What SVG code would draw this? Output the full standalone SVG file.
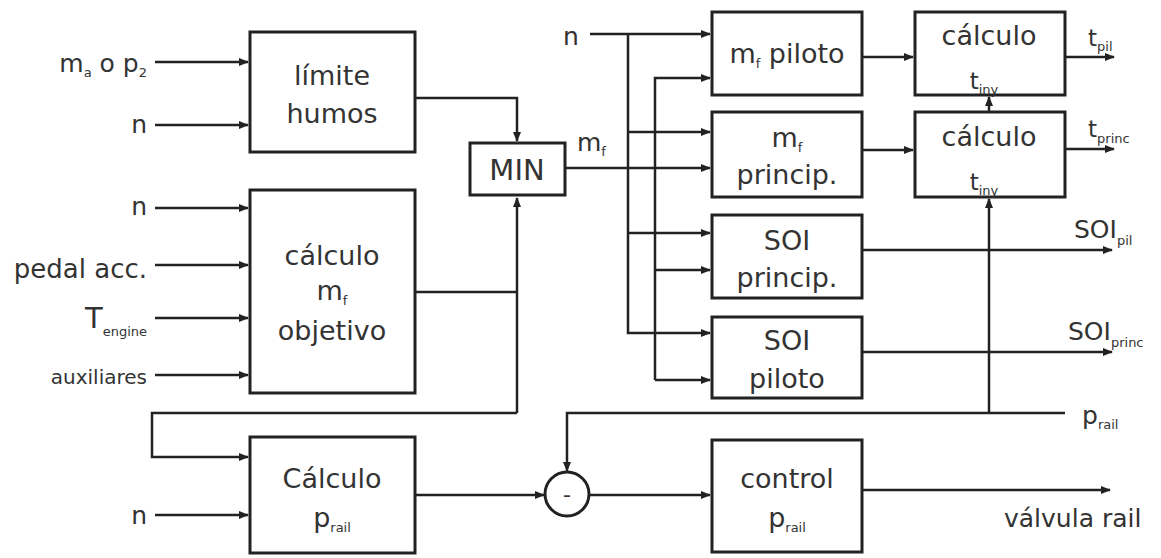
<svg xmlns="http://www.w3.org/2000/svg" width="1161" height="558" viewBox="0 0 1161 558">
<defs>
<marker id="ar" markerWidth="10" markerHeight="10" refX="9" refY="5" orient="auto" markerUnits="userSpaceOnUse">
<path d="M0,1 L10,5 L0,9 z" fill="#222"/>
</marker>
<style>
.box{fill:#fff;stroke:#222;stroke-width:3}
.ln{fill:none;stroke:#222;stroke-width:2.5}
.a{marker-end:url(#ar)}
text{font-family:"DejaVu Sans","Liberation Sans",Arial,sans-serif;fill:#333}
.bt{font-size:27px;text-anchor:middle}
.lb{font-size:25px}
.r{text-anchor:end}
.s{font-size:13px}
</style>
</defs>
<rect width="1161" height="558" fill="#fff"/>
<g id="connectors">
<path class="ln a" d="M155,62 H248"/>
<path class="ln a" d="M155,125 H248"/>
<path class="ln a" d="M415,98 H517 V141"/>
<path class="ln a" d="M155,208 H248"/>
<path class="ln a" d="M155,265 H248"/>
<path class="ln a" d="M155,318 H248"/>
<path class="ln a" d="M155,375 H248"/>
<path class="ln" d="M415,292 H517"/>
<path class="ln a" d="M517,413 V198"/>
<path class="ln a" d="M517,413 H152 V457 H248"/>
<path class="ln a" d="M155,515 H248"/>
<path class="ln a" d="M415,495 H544"/>
<path class="ln a" d="M590,495 H710"/>
<path class="ln a" d="M862,490 H1110"/>
<path class="ln a" d="M1065,413 H567 V471"/>
<path class="ln a" d="M565,168 H710"/>
<path class="ln a" d="M590,34 H710"/>
<path class="ln a" d="M628,34 V333 H710"/>
<path class="ln a" d="M628,132 H710"/>
<path class="ln a" d="M628,233 H710"/>
<path class="ln a" d="M655,380 V78 H710"/>
<path class="ln a" d="M655,270 H710"/>
<path class="ln a" d="M655,380 H710"/>
<path class="ln a" d="M862,57 H913"/>
<path class="ln a" d="M862,150 H913"/>
<path class="ln a" d="M1065,57 H1114"/>
<path class="ln a" d="M1065,149 H1114"/>
<path class="ln a" d="M989,112 V97"/>
<path class="ln a" d="M989,413 V199"/>
<path class="ln a" d="M862,250 H1112"/>
<path class="ln a" d="M862,352 H1112"/>
</g>
<g id="labels">
<text class="lb r" x="147" y="72">m<tspan class="s" dy="5">a</tspan><tspan dy="-5"> o p</tspan><tspan class="s" dy="5">2</tspan></text>
<text class="lb r" x="147" y="133">n</text>
<text class="lb r" x="147" y="215">n</text>
<text class="lb r" x="147" y="278" style="font-size:26px">pedal acc.</text>
<text class="lb r" x="147" y="328" style="font-size:29px">T<tspan class="s" dy="8">engine</tspan></text>
<text class="lb r" x="147" y="384" style="font-size:20px">auxiliares</text>
<text class="lb r" x="147" y="524">n</text>
<text class="lb" x="563" y="45">n</text>
<text class="lb" x="577" y="151">m<tspan class="s" dy="5">f</tspan></text>
<text class="lb" x="1088" y="46" style="font-size:23px">t<tspan class="s" dy="5">pil</tspan></text>
<text class="lb" x="1088" y="137" style="font-size:23px">t<tspan class="s" dy="6">princ</tspan></text>
<text class="lb" x="1074" y="238">SOI<tspan class="s" dy="7">pil</tspan></text>
<text class="lb" x="1068" y="340">SOI<tspan class="s" dy="7">princ</tspan></text>
<text class="lb" x="1082" y="424">p<tspan class="s" dy="5">rail</tspan></text>
<text class="lb" x="1004" y="527">válvula rail</text>
</g>
<g id="limite">
<rect class="box" x="250" y="32" width="165" height="120"/>
<text class="bt" x="332" y="85">límite</text>
<text class="bt" x="332" y="123">humos</text>
</g>
<g id="min">
<rect class="box" x="470" y="143" width="95" height="52"/>
<text class="bt" x="517" y="180" style="font-size:29px">MIN</text>
</g>
<g id="objetivo">
<rect class="box" x="250" y="190" width="165" height="203"/>
<text class="bt" x="332" y="265">cálculo</text>
<text class="bt" x="332" y="300">m<tspan class="s" dy="5">f</tspan></text>
<text class="bt" x="332" y="340">objetivo</text>
</g>
<g id="calc-prail">
<rect class="box" x="250" y="437" width="165" height="116"/>
<text class="bt" x="332" y="488">Cálculo</text>
<text class="bt" x="332" y="527">p<tspan class="s" dy="5">rail</tspan></text>
</g>
<g id="sum">
<circle class="box" cx="567" cy="494" r="22"/>
<text class="bt" x="567" y="502" style="font-size:22px">-</text>
</g>
<g id="control">
<rect class="box" x="712" y="440" width="150" height="112"/>
<text class="bt" x="787" y="488">control</text>
<text class="bt" x="787" y="527">p<tspan class="s" dy="5">rail</tspan></text>
</g>
<g id="mf-piloto">
<rect class="box" x="712" y="12" width="150" height="83"/>
<text class="bt" x="787" y="63">m<tspan class="s" dy="5">f</tspan><tspan dy="-5"> piloto</tspan></text>
</g>
<g id="mf-princip">
<rect class="box" x="712" y="112" width="150" height="85"/>
<text class="bt" x="787" y="147">m<tspan class="s" dy="5">f</tspan></text>
<text class="bt" x="787" y="184">princip.</text>
</g>
<g id="soi-princip">
<rect class="box" x="712" y="215" width="150" height="83"/>
<text class="bt" x="787" y="250">SOI</text>
<text class="bt" x="787" y="287">princip.</text>
</g>
<g id="soi-piloto">
<rect class="box" x="712" y="317" width="150" height="81"/>
<text class="bt" x="787" y="350">SOI</text>
<text class="bt" x="787" y="388">piloto</text>
</g>
<g id="calc-pil">
<rect class="box" x="915" y="12" width="150" height="83"/>
<text class="bt" x="989" y="45">cálculo</text>
<text class="bt" x="984" y="89" style="font-size:23px">t<tspan class="s" dy="5">iny</tspan></text>
</g>
<g id="calc-princ">
<rect class="box" x="915" y="112" width="150" height="85"/>
<text class="bt" x="989" y="146">cálculo</text>
<text class="bt" x="984" y="190" style="font-size:23px">t<tspan class="s" dy="5">iny</tspan></text>
</g>
</svg>
